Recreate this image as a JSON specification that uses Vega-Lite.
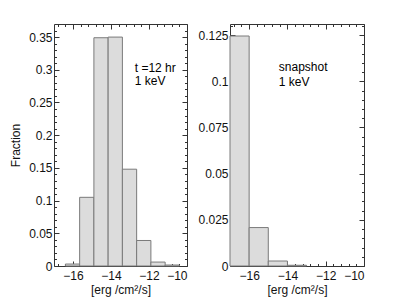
{
  "$schema": "https://vega.github.io/schema/vega-lite/v6.json",
  "padding": {"left": 9, "top": 23, "right": 5, "bottom": 5},
  "background": "white",
  "datasets": {
    "left": [
      {"start": -16.4, "end": -15.65, "frac": 0.003},
      {"start": -15.65, "end": -14.9, "frac": 0.105},
      {"start": -14.9, "end": -14.15, "frac": 0.349},
      {"start": -14.15, "end": -13.4, "frac": 0.350},
      {"start": -13.4, "end": -12.65, "frac": 0.148},
      {"start": -12.65, "end": -11.9, "frac": 0.039},
      {"start": -11.9, "end": -11.15, "frac": 0.006},
      {"start": -11.15, "end": -10.4, "frac": 0.0015}
    ],
    "right": [
      {"start": -17, "end": -16, "frac": 0.1245},
      {"start": -16, "end": -15, "frac": 0.0208},
      {"start": -15, "end": -14, "frac": 0.0027},
      {"start": -14, "end": -13, "frac": 0.0004}
    ],
    "leftText": [
      {"tx": -12.75, "ty": 0.303, "label": "t =12 hr"},
      {"tx": -12.75, "ty": 0.2825, "label": "1 keV"}
    ],
    "rightText": [
      {"tx": -14.45, "ty": 0.1075, "label": "snapshot"},
      {"tx": -14.45, "ty": 0.0997, "label": "1 keV"}
    ]
  },
  "hconcat": [
    {
      "width": 133,
      "height": 242,
      "layer": [
        {
          "data": {"name": "left"},
          "mark": {"type": "bar", "fill": "#dcdcdc", "stroke": "#7a7a7a", "strokeWidth": 1},
          "encoding": {
            "x": {"field": "start", "type": "quantitative", "scale": {"domain": [-17, -10], "nice": false, "zero": false},
              "axis": {"orient": "bottom", "values": [-16, -14, -12, -10], "title": "[erg /cm²/s]", "tickSize": -5, "labelPadding": 9, "titlePadding": 3}},
            "x2": {"field": "end"},
            "y": {"field": "frac", "type": "quantitative", "scale": {"domain": [0, 0.37], "nice": false, "zero": true},
              "axis": {"orient": "left", "values": [0, 0.05, 0.1, 0.15, 0.2, 0.25, 0.3, 0.35], "labelExpr": "datum.value == 0 ? '0' : format(datum.value, '.2~f')", "title": "Fraction", "tickSize": -5, "labelPadding": 7, "titlePadding": 6}},
            "y2": {"datum": 0}
          }
        },
        {
          "data": {"name": "leftText"},
          "mark": {"type": "text", "align": "left", "baseline": "middle", "font": "Liberation Sans", "fontSize": 12, "color": "black"},
          "encoding": {
            "x": {"field": "tx", "type": "quantitative", "scale": {"domain": [-17, -10], "nice": false, "zero": false},
              "axis": {"orient": "top", "values": [-16, -14, -12, -10], "labels": false, "title": null, "tickSize": -5}},
            "y": {"field": "ty", "type": "quantitative", "scale": {"domain": [0, 0.37], "nice": false},
              "axis": {"orient": "right", "values": [0, 0.05, 0.1, 0.15, 0.2, 0.25, 0.3, 0.35], "labels": false, "title": null, "tickSize": -5}},
            "text": {"field": "label"}
          }
        },
        {
          "data": {"name": "left"},
          "mark": {"type": "bar", "opacity": 0},
          "encoding": {
            "x": {"field": "start", "type": "quantitative", "scale": {"domain": [-17, -10], "nice": false, "zero": false},
              "axis": {"orient": "bottom", "values": [-16.8, -16.4, -15.6, -15.2, -14.8, -14.4, -13.6, -13.2, -12.8, -12.4, -11.6, -11.2, -10.8, -10.4], "labels": false, "title": null, "tickSize": -2.5}},
            "x2": {"field": "end"},
            "y": {"field": "frac", "type": "quantitative", "scale": {"domain": [0, 0.37], "nice": false},
              "axis": {"orient": "left", "values": [0.01, 0.02, 0.03, 0.04, 0.06, 0.07, 0.08, 0.09, 0.11, 0.12, 0.13, 0.14, 0.16, 0.17, 0.18, 0.19, 0.21, 0.22, 0.23, 0.24, 0.26, 0.27, 0.28, 0.29, 0.31, 0.32, 0.33, 0.34, 0.36], "labels": false, "title": null, "tickSize": -2.5}},
            "y2": {"datum": 0}
          }
        },
        {
          "data": {"name": "left"},
          "mark": {"type": "bar", "opacity": 0},
          "encoding": {
            "x": {"field": "start", "type": "quantitative", "scale": {"domain": [-17, -10], "nice": false, "zero": false},
              "axis": {"orient": "top", "values": [-16.8, -16.4, -15.6, -15.2, -14.8, -14.4, -13.6, -13.2, -12.8, -12.4, -11.6, -11.2, -10.8, -10.4], "labels": false, "title": null, "tickSize": -2.5}},
            "x2": {"field": "end"},
            "y": {"field": "frac", "type": "quantitative", "scale": {"domain": [0, 0.37], "nice": false},
              "axis": {"orient": "right", "values": [0.01, 0.02, 0.03, 0.04, 0.06, 0.07, 0.08, 0.09, 0.11, 0.12, 0.13, 0.14, 0.16, 0.17, 0.18, 0.19, 0.21, 0.22, 0.23, 0.24, 0.26, 0.27, 0.28, 0.29, 0.31, 0.32, 0.33, 0.34, 0.36], "labels": false, "title": null, "tickSize": -2.5}},
            "y2": {"datum": 0}
          }
        }
      ],
      "resolve": {"axis": {"x": "independent", "y": "independent"}}
    },
    {
      "width": 134,
      "height": 242,
      "layer": [
        {
          "data": {"name": "right"},
          "mark": {"type": "bar", "fill": "#dcdcdc", "stroke": "#7a7a7a", "strokeWidth": 1},
          "encoding": {
            "x": {"field": "start", "type": "quantitative", "scale": {"domain": [-17, -10], "nice": false, "zero": false},
              "axis": {"orient": "bottom", "values": [-16, -14, -12, -10], "title": "[erg /cm²/s]", "tickSize": -5, "labelPadding": 9, "titlePadding": 3}},
            "x2": {"field": "end"},
            "y": {"field": "frac", "type": "quantitative", "scale": {"domain": [0, 0.131], "nice": false, "zero": true},
              "axis": {"orient": "left", "values": [0, 0.025, 0.05, 0.075, 0.1, 0.125], "labelExpr": "datum.value == 0 ? '0' : format(datum.value, '.3~f')", "title": null, "tickSize": -5, "labelPadding": 7}},
            "y2": {"datum": 0}
          }
        },
        {
          "data": {"name": "rightText"},
          "mark": {"type": "text", "align": "left", "baseline": "middle", "font": "Liberation Sans", "fontSize": 12, "color": "black"},
          "encoding": {
            "x": {"field": "tx", "type": "quantitative", "scale": {"domain": [-17, -10], "nice": false, "zero": false},
              "axis": {"orient": "top", "values": [-16, -14, -12, -10], "labels": false, "title": null, "tickSize": -5}},
            "y": {"field": "ty", "type": "quantitative", "scale": {"domain": [0, 0.131], "nice": false},
              "axis": {"orient": "right", "values": [0, 0.025, 0.05, 0.075, 0.1, 0.125], "labels": false, "title": null, "tickSize": -5}},
            "text": {"field": "label"}
          }
        },
        {
          "data": {"name": "right"},
          "mark": {"type": "bar", "opacity": 0},
          "encoding": {
            "x": {"field": "start", "type": "quantitative", "scale": {"domain": [-17, -10], "nice": false, "zero": false},
              "axis": {"orient": "bottom", "values": [-16.8, -16.4, -15.6, -15.2, -14.8, -14.4, -13.6, -13.2, -12.8, -12.4, -11.6, -11.2, -10.8, -10.4], "labels": false, "title": null, "tickSize": -2.5}},
            "x2": {"field": "end"},
            "y": {"field": "frac", "type": "quantitative", "scale": {"domain": [0, 0.131], "nice": false},
              "axis": {"orient": "left", "values": [0.005, 0.01, 0.015, 0.02, 0.03, 0.035, 0.04, 0.045, 0.055, 0.06, 0.065, 0.07, 0.08, 0.085, 0.09, 0.095, 0.105, 0.11, 0.115, 0.12, 0.13], "labels": false, "title": null, "tickSize": -2.5}},
            "y2": {"datum": 0}
          }
        },
        {
          "data": {"name": "right"},
          "mark": {"type": "bar", "opacity": 0},
          "encoding": {
            "x": {"field": "start", "type": "quantitative", "scale": {"domain": [-17, -10], "nice": false, "zero": false},
              "axis": {"orient": "top", "values": [-16.8, -16.4, -15.6, -15.2, -14.8, -14.4, -13.6, -13.2, -12.8, -12.4, -11.6, -11.2, -10.8, -10.4], "labels": false, "title": null, "tickSize": -2.5}},
            "x2": {"field": "end"},
            "y": {"field": "frac", "type": "quantitative", "scale": {"domain": [0, 0.131], "nice": false},
              "axis": {"orient": "right", "values": [0.005, 0.01, 0.015, 0.02, 0.03, 0.035, 0.04, 0.045, 0.055, 0.06, 0.065, 0.07, 0.08, 0.085, 0.09, 0.095, 0.105, 0.11, 0.115, 0.12, 0.13], "labels": false, "title": null, "tickSize": -2.5}},
            "y2": {"datum": 0}
          }
        }
      ],
      "resolve": {"axis": {"x": "independent", "y": "independent"}}
    }
  ],
  "spacing": 43,
  "bounds": "flush",
  "config": {
    "font": "Liberation Sans",
    "view": {"stroke": "#333333", "strokeWidth": 1},
    "axis": {
      "grid": false,
      "domain": false,
      "tickColor": "#333333",
      "tickWidth": 1,
      "labelFont": "Liberation Sans",
      "labelFontSize": 12,
      "labelColor": "#111111",
      "titleFont": "Liberation Sans",
      "titleFontSize": 12,
      "titleFontWeight": "normal",
      "titleColor": "#111111"
    }
  }
}
